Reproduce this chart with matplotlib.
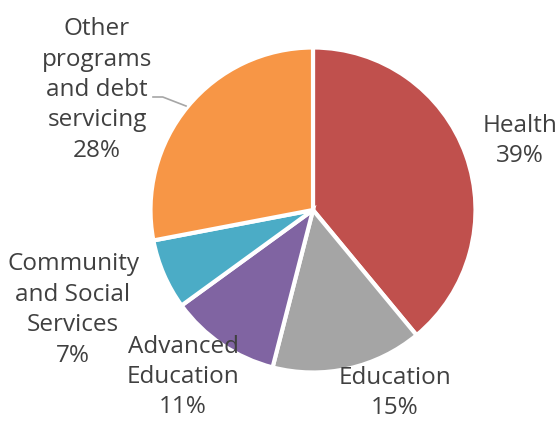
import matplotlib.pyplot as plt

plt.rcParams['font.family'] = ['Open Sans', 'DejaVu Sans']

categories = ['Health', 'Education', 'Advanced\nEducation',
              'Community\nand Social\nServices', 'Other\nprograms\nand debt\nservicing']
shares = [39, 15, 11, 7, 28]
colors = ['#C0504D', '#A5A5A5', '#8064A2', '#4BACC6', '#F79646']

# label anchors in pixels (figure is 560x421, pie centre at 313,210, r=162.5)
label_px = [(520, 141), (395, 393), (183, 377), (73, 310), (97, 90)]
CX, CY, R = 313, 210, 162.5


def to_data(px, py):
    return (px - CX) / R, (CY - py) / R


fig = plt.figure(figsize=(5.6, 4.21), dpi=100)
ax = fig.add_axes([0, 0, 1, 1])
ax.pie(shares, colors=colors, startangle=90, counterclock=False,
       wedgeprops=dict(edgecolor='white', linewidth=3))
ax.set_xlim(-CX / R, (560 - CX) / R)
ax.set_ylim(-(421 - CY) / R, CY / R)
ax.set_aspect('equal')
ax.axis('off')

for name, val, (px, py) in zip(categories, shares, label_px):
    x, y = to_data(px, py)
    ax.text(x, y, f"{name}\n{val}%", ha='center', va='center',
            fontsize=17.5, color='#404040', linespacing=1.36)

# leader line for the "Other" label
x0, y0 = to_data(153, 97)
x1, y1 = to_data(186, 106)
ax.plot([x0, x0 + 0.06, x1], [y0, y0, y1], color='#A6A6A6', lw=1.2)

fig.savefig('out.png', dpi=100)
